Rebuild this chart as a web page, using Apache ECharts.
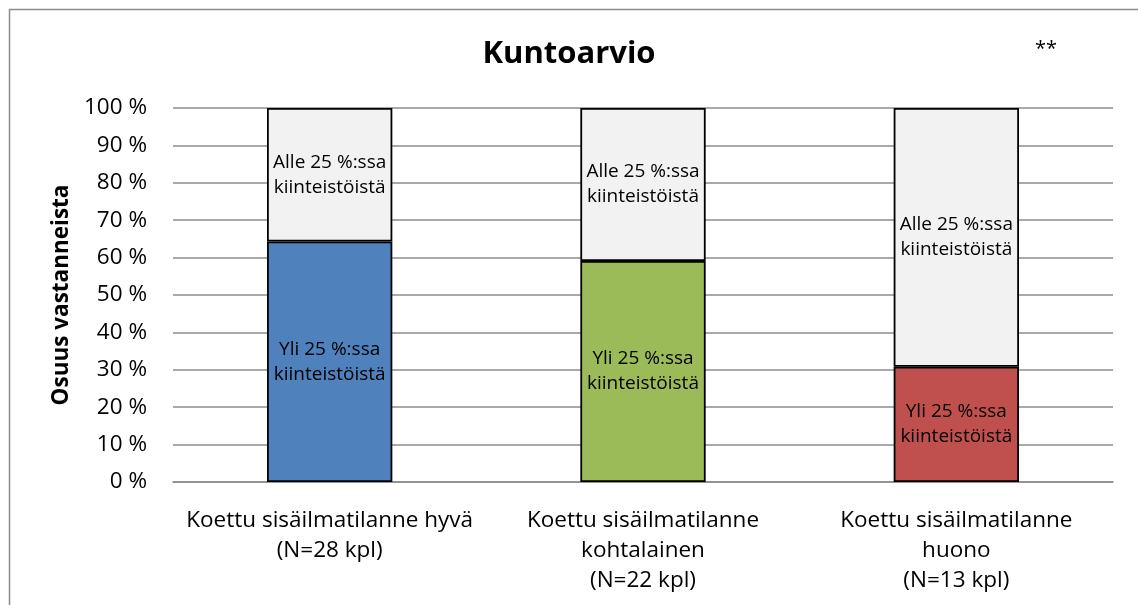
<!DOCTYPE html>
<html><head><meta charset="utf-8">
<script src="https://cdn.jsdelivr.net/npm/echarts@6/dist/echarts.min.js"></script>
<style>html,body{margin:0;padding:0;background:#fff}#c{width:1138px;height:605px}</style>
</head><body><div id="c"></div>
<script>
const categories = ['Koettu sisäilmatilanne hyvä\n(N=28 kpl)', 'Koettu sisäilmatilanne\nkohtalainen\n(N=22 kpl)', 'Koettu sisäilmatilanne\nhuono\n(N=13 kpl)'];
const yliValues = [64.3, 59.1, 30.8];
const alleValues = [35.7, 40.9, 69.2];
const barColors = ['#4f81bd', '#9bbb59', '#c0504d'];
const yliLabel = 'Yli 25 %:ssa\nkiinteistöistä';
const alleLabel = 'Alle 25 %:ssa\nkiinteistöistä';
const FONT = '"Open Sans", "Noto Sans", sans-serif';

const chart = echarts.init(document.getElementById('c'), null, {renderer: 'canvas'});
chart.setOption({
  animation: false,
  textStyle: {fontFamily: FONT},
  title: {text: 'Kuntoarvio', left: 'center', top: 34, textStyle: {fontSize: 31, fontWeight: 'bold', color: '#000', fontFamily: FONT}},
  graphic: [
    {type: 'rect', shape: {x: 9.5, y: 9.5, width: 1140, height: 610}, style: {fill: 'none', stroke: '#8c8c8c', lineWidth: 1.5}, silent: true},
    {type: 'text', left: 1035, top: 39, style: {text: '**', font: '20px ' + FONT, fill: '#000'}}
  ],
  grid: {left: 173, right: 25, top: 108, bottom: 123},
  xAxis: {
    type: 'category', data: categories,
    axisLine: {show: true, lineStyle: {color: '#8c8c8c', width: 1.5}},
    axisTick: {show: false},
    axisLabel: {fontSize: 22.5, color: '#000', margin: 24, lineHeight: 30, interval: 0, fontFamily: FONT}
  },
  yAxis: {
    type: 'value', min: 0, max: 100, interval: 10,
    name: 'Osuus vastanneista', nameLocation: 'middle', nameGap: 99, nameRotate: 90,
    nameTextStyle: {fontSize: 22.5, fontWeight: 'bold', color: '#000', fontFamily: FONT},
    axisLine: {show: false}, axisTick: {show: false},
    axisLabel: {formatter: v => v + ' %', fontSize: 22.5, color: '#000', margin: 26, fontFamily: FONT},
    splitLine: {lineStyle: {color: '#8c8c8c', width: 1.5}}
  },
  series: [
    {
      name: 'Yli', type: 'bar', stack: 's', barWidth: '40%',
      data: yliValues.map((v, i) => ({value: v, itemStyle: {color: barColors[i]}})),
      itemStyle: {borderColor: '#000', borderWidth: 1.8},
      label: {show: true, position: 'inside', formatter: yliLabel, fontSize: 19, color: '#000', lineHeight: 25, fontFamily: FONT}
    },
    {
      name: 'Alle', type: 'bar', stack: 's', barWidth: '40%',
      data: alleValues,
      itemStyle: {color: '#f2f2f2', borderColor: '#000', borderWidth: 1.8},
      label: {show: true, position: 'inside', formatter: alleLabel, fontSize: 19, color: '#000', lineHeight: 25, fontFamily: FONT}
    }
  ]
});
</script></body></html>
